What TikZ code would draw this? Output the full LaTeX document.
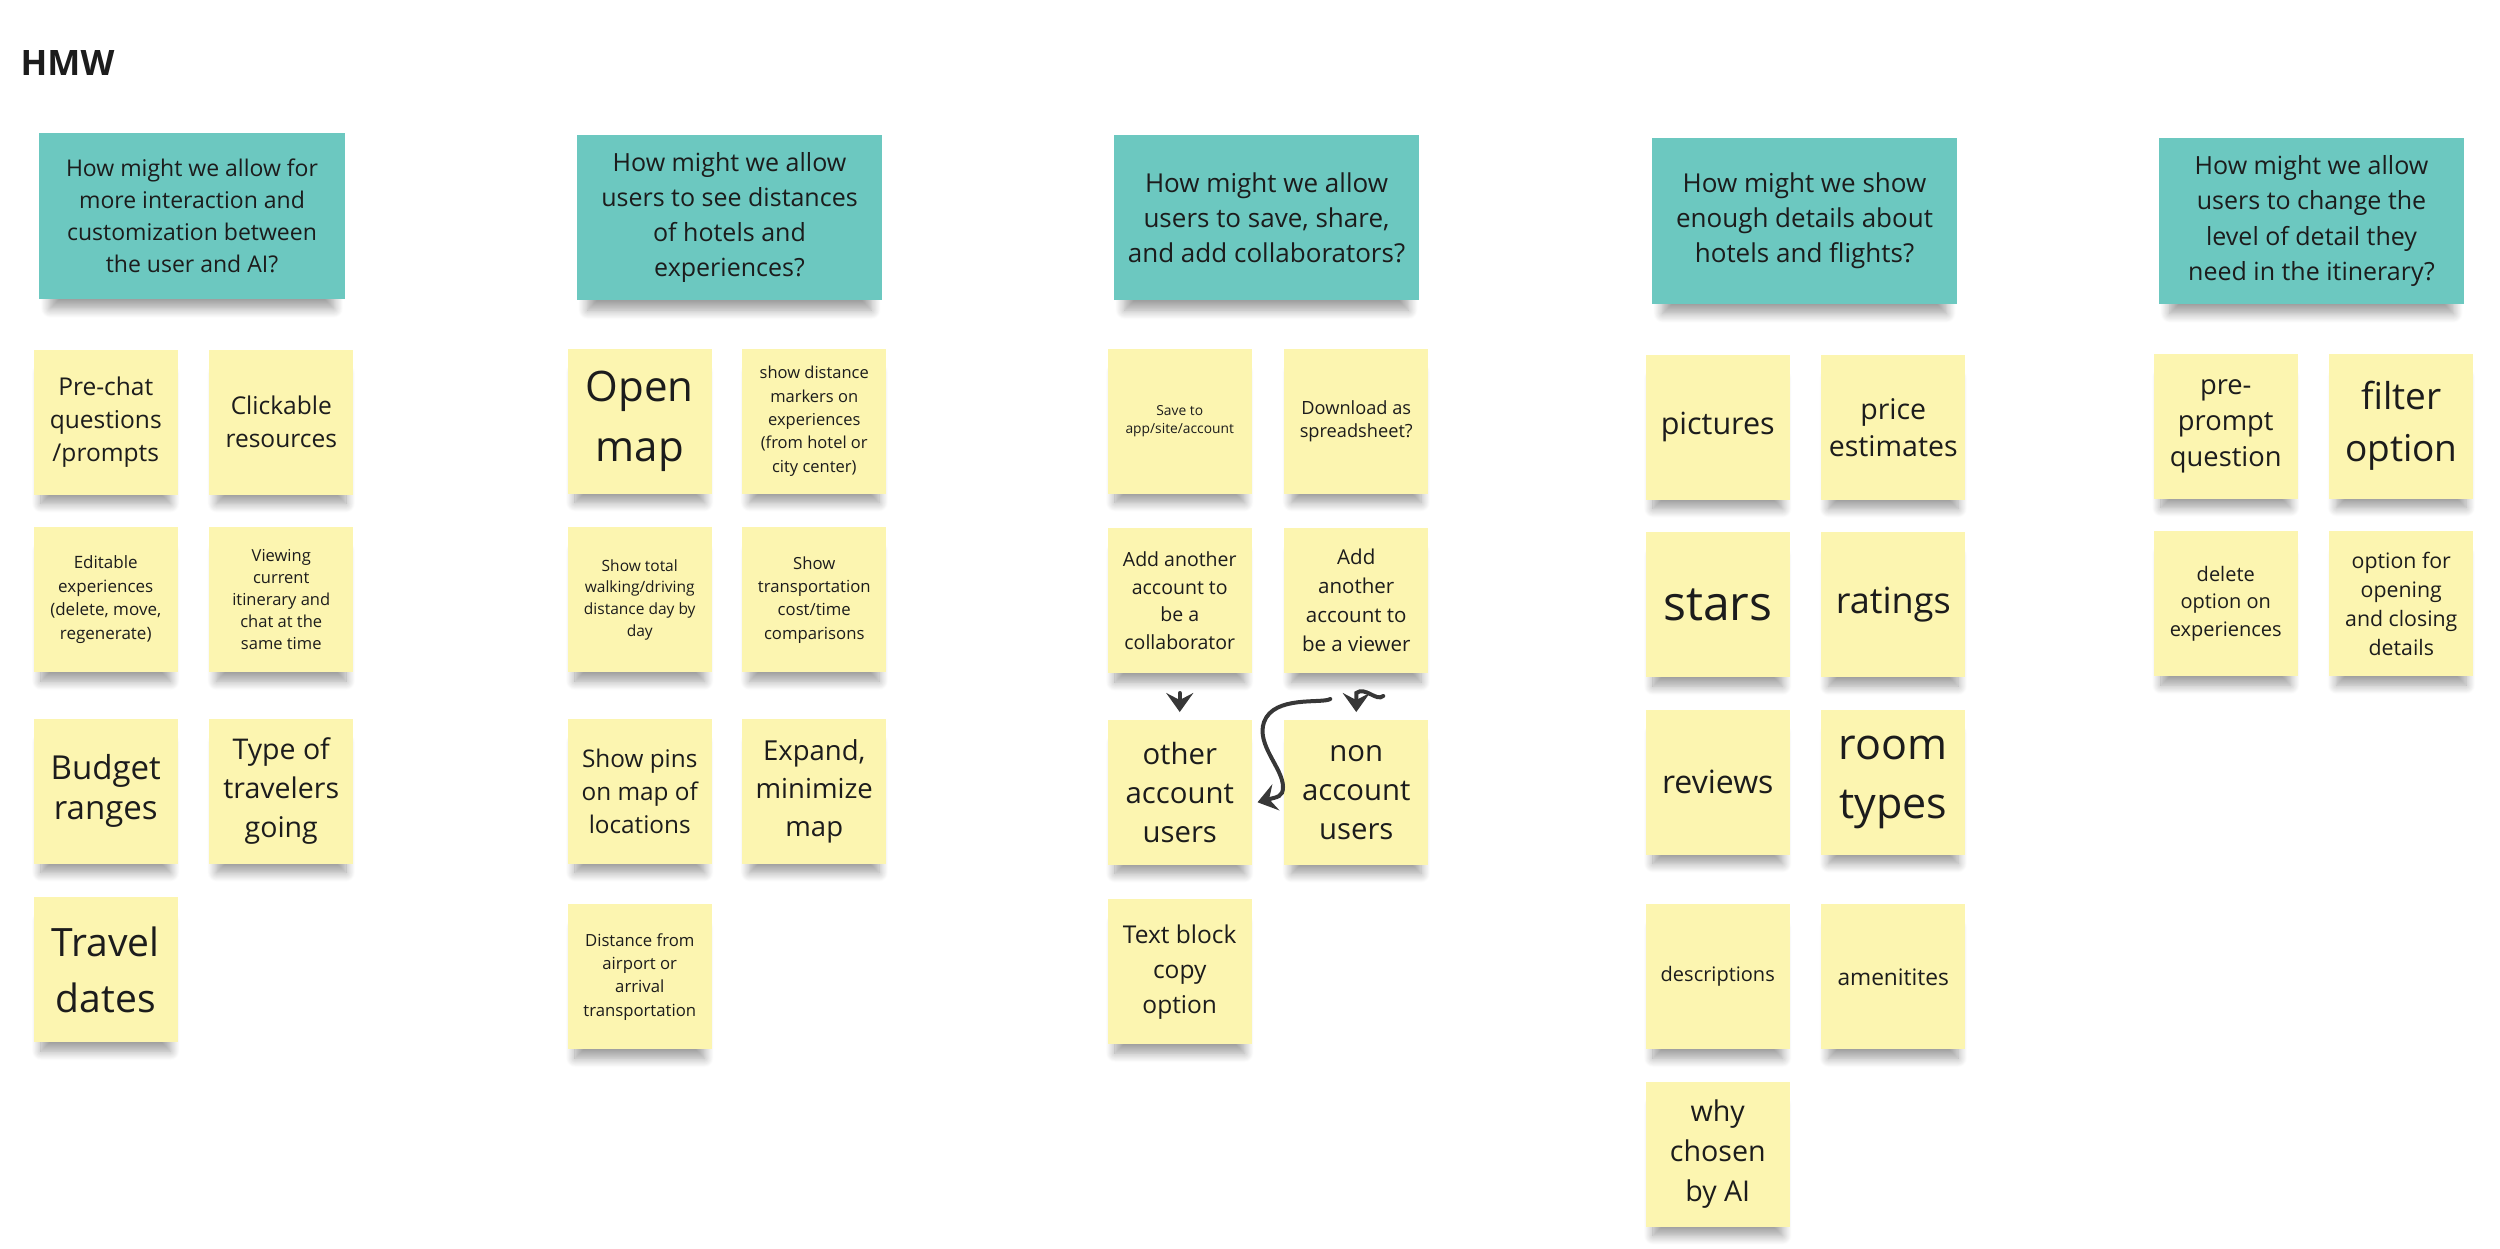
\documentclass[tikz,border=0pt]{standalone}
\usepackage{fontspec}
\setmainfont{Open Sans}
\usepackage{tikz}
\usetikzlibrary{arrows.meta,positioning,calc,shadows.blur}
\definecolor{hmwteal}{RGB}{108,200,192}
\definecolor{stickyyellow}{RGB}{252,245,176}
\definecolor{inkdark}{RGB}{28,28,28}
\definecolor{penline}{RGB}{55,55,55}
% type size and line skip given in picture pixels
\newcommand{\pxfont}[2]{\fontsize{\fpeval{#1*0.28453}pt}{\fpeval{#2*0.28453}pt}\selectfont}

\begin{document}
\begin{tikzpicture}[
    x=0.01cm, y=-0.01cm,
    >=Stealth,
    node distance=0.3cm,
    hmwcard/.style={fill=hmwteal, text=inkdark, align=center, inner sep=0pt, minimum width=3.05cm, minimum height=1.65cm, blur shadow={shadow xshift=0cm, shadow yshift=-0.17cm, shadow scale=0.93, shadow blur radius=0.1cm, shadow blur steps=12, shadow opacity=38}},
    sticky/.style={fill=stickyyellow, text=inkdark, align=center, inner sep=0pt, minimum width=1.44cm, minimum height=1.45cm, blur shadow={shadow xshift=0cm, shadow yshift=-0.18cm, shadow scale=0.9, shadow blur radius=0.1cm, shadow blur steps=12, shadow opacity=38}},
    penarrow/.style={-{Stealth[length=0.19cm, width=0.27cm, inset=0.07cm]}, line width=0.04cm, penline, line cap=round}
]
    \useasboundingbox (0,0) rectangle (2500,1248);

    % Title
    \node[anchor=base west, inner sep=0pt, text=inkdark, font=\pxfont{35}{40}\bfseries] (title) at (20,75) {HMW};

    % HMW questions
    \node[hmwcard, font=\pxfont{23}{32}] (hmwAI) at (192,216) {How might we allow for\\more interaction and\\customization between\\the user and AI?};
    \node[hmwcard, font=\pxfont{25}{35}] (hmwDist) at (729.5,217.5) {How might we allow\\users to see distances\\of hotels and\\experiences?};
    \node[hmwcard, font=\pxfont{26}{35}] (hmwShare) at (1266.5,217.5) {How might we allow\\users to save, share,\\and add collaborators?};
    \node[hmwcard, font=\pxfont{26}{35}] (hmwDetail) at (1804.5,221) {How might we show\\enough details about\\hotels and flights?};
    \node[hmwcard, font=\pxfont{25}{35}] (hmwLevel) at (2311.5,221) {How might we allow\\users to change the\\level of detail they\\need in the itinerary?};

    % Column 1 stickies
    \node[sticky, anchor=north west, font=\pxfont{24.5}{33}] (prechat) at (33,349) {Pre-chat\\questions\\/prompts};
    \node[sticky, right=of prechat, font=\pxfont{24.5}{33}] (clickable) {Clickable\\resources};
    \node[sticky, below=0.31cm of prechat, font=\pxfont{17}{23.5}] (editable) {Editable\\experiences\\(delete, move,\\regenerate)};
    \node[sticky, right=of editable, font=\pxfont{16.5}{22}] (viewing) {Viewing\\current\\itinerary and\\chat at the\\same time};
    \node[sticky, below=0.45cm of editable, font=\pxfont{33}{40}] (budget) {Budget\\ranges};
    \node[sticky, right=of budget, font=\pxfont{28.5}{39}] (travelers) {Type of\\travelers\\going};
    \node[sticky, below=0.32cm of budget, font=\pxfont{39}{56}] (dates) {Travel\\dates};

    % Column 2 stickies
    \node[sticky, anchor=north west, font=\pxfont{42}{60}] (openmap) at (567,348) {Open\\map};
    \node[sticky, right=0.29cm of openmap, font=\pxfont{16.5}{23.3}] (markers) {show distance\\markers on\\experiences\\(from hotel or\\city center)};
    \node[sticky, below=0.32cm of openmap, font=\pxfont{15.5}{21.7}] (walking) {Show total\\walking/driving\\distance day by\\day};
    \node[sticky, right=0.29cm of walking, font=\pxfont{16.7}{23.3}] (transport) {Show\\transportation\\cost/time\\comparisons};
    \node[sticky, below=0.45cm of walking, font=\pxfont{24.3}{33}] (pins) {Show pins\\on map of\\locations};
    \node[sticky, right=0.29cm of pins, font=\pxfont{27.5}{38}] (expand) {Expand,\\minimize\\map};
    \node[sticky, below=0.39cm of pins, font=\pxfont{16.7}{23.3}] (airport) {Distance from\\airport or\\arrival\\transportation};

    % Column 3 stickies
    \node[sticky, anchor=north west, font=\pxfont{13.8}{18.5}] (saveto) at (1107,348) {Save to\\app/site/account};
    \node[sticky, right=0.31cm of saveto, font=\pxfont{18.2}{22.5}] (download) {Download as\\spreadsheet?};
    \node[sticky, below=0.33cm of saveto, font=\pxfont{19.5}{27.6}] (collab) {Add another\\account to\\be a\\collaborator};
    \node[sticky, right=0.31cm of collab, font=\pxfont{20.5}{29}] (viewer) {Add\\another\\account to\\be a viewer};
    \node[sticky, below=0.45cm of collab, font=\pxfont{29.3}{39}] (otheracc) {other\\account\\users};
    \node[sticky, right=0.31cm of otheracc, font=\pxfont{29.3}{39}] (nonacc) {non\\account\\users};
    \node[sticky, below=0.33cm of otheracc, font=\pxfont{24.5}{35}] (textblock) {Text block\\copy\\option};

    % Column 4 stickies
    \node[sticky, anchor=north west, font=\pxfont{30.5}{40}] (pictures) at (1645,354) {pictures};
    \node[sticky, right=of pictures, font=\pxfont{28.5}{37}] (price) {price\\estimates};
    \node[sticky, below=0.31cm of pictures, font=\pxfont{48}{60}] (stars) {stars};
    \node[sticky, right=of stars, font=\pxfont{36}{45}] (ratings) {ratings};
    \node[sticky, below=0.31cm of stars, font=\pxfont{32}{40}] (reviews) {reviews};
    \node[sticky, right=of reviews, font=\pxfont{43}{59}] (roomtypes) {room\\types};
    \node[sticky, below=0.48cm of reviews, font=\pxfont{20}{26}] (descr) {descriptions};
    \node[sticky, right=of descr, font=\pxfont{22.7}{30}] (amenities) {amenitites};
    \node[sticky, below=0.31cm of descr, font=\pxfont{28.6}{40}] (whyai) {why\\chosen\\by AI};

    % Column 5 stickies
    \node[sticky, anchor=north west, font=\pxfont{27.3}{36}] (preprompt) at (2153,353) {pre-\\prompt\\question};
    \node[sticky, right=of preprompt, font=\pxfont{37}{52}] (filter) {filter\\option};
    \node[sticky, below=0.31cm of preprompt, font=\pxfont{20}{27.5}] (deleteopt) {delete\\option on\\experiences};
    \node[sticky, right=of deleteopt, font=\pxfont{21.3}{29}] (openclose) {option for\\opening\\and closing\\details};

    % Hand-drawn arrows between the sharing stickies
    \coordinate (viewtail) at ($(viewer.south)+(27,22)$);
    \coordinate (viewstart) at ($(viewer.south)+(-26,25)$);
    \draw[penarrow, shorten <=0.19cm, shorten >=0.07cm] (collab) -- (otheracc);
    \draw[penarrow, shorten >=0.07cm] (viewtail) .. controls +(-7,6) and +(9,-7) .. ($(nonacc.north)+(0,-26)$) -- (nonacc.north);
    \draw[penarrow] (viewstart) .. controls (1322,704) and (1274,695) .. (1264,722) .. controls (1256,745) and (1283,768) .. (1283,787) .. controls (1283,797) and (1277,797) .. ($(otheracc.east)+(5,10)$);

\end{tikzpicture}
\end{document}
